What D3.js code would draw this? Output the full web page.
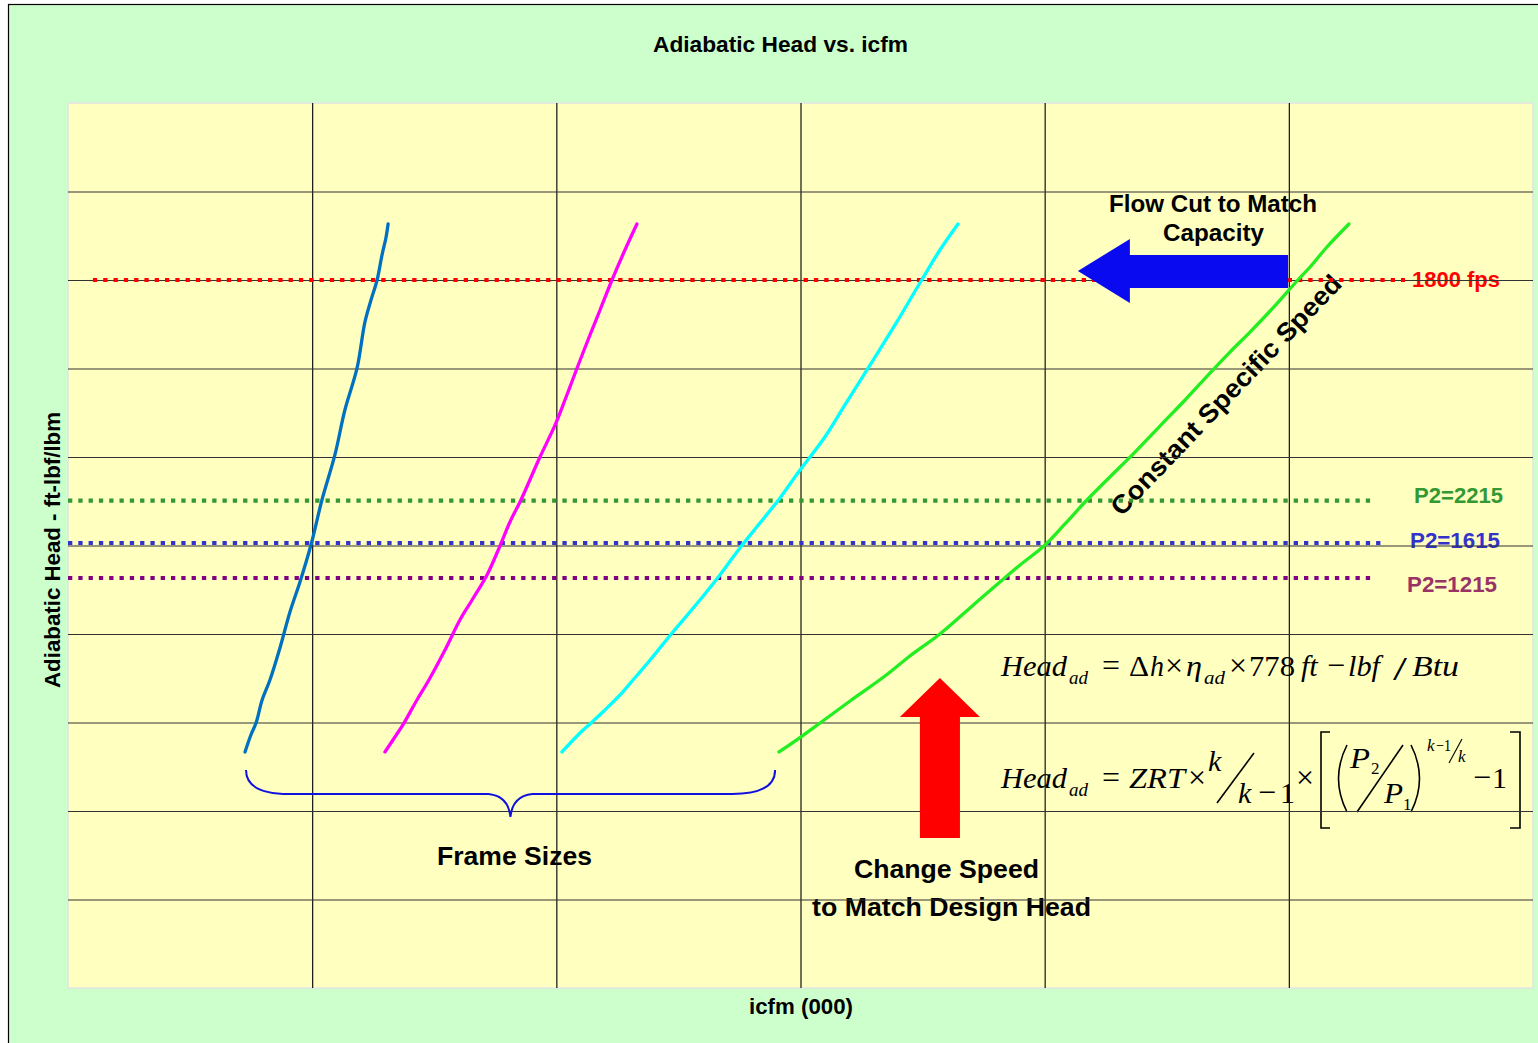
<!DOCTYPE html>
<html><head><meta charset="utf-8">
<script src="https://cdn.jsdelivr.net/npm/d3@7"></script>
<style>body{margin:0;background:#fff}svg{display:block}</style>
</head><body><svg id="c" width="1538" height="1043"></svg>
<script>
// ---------- data ----------
const xTicks = [0, 10, 20, 30, 40, 50, 60];
const yTicks = [0, 10, 20, 30, 40, 50, 60, 70, 80, 90, 100];

const frameNames = ["Frame 1", "Frame 2", "Frame 3", "Frame 4"];
const frame1X = [7.25,7.49,7.70,7.95,8.27,8.68,9.09,9.50,9.95,10.40,10.93,11.34,11.84,12.16,12.41,12.66,12.86,13.02,13.11];
const frame1Y = [26.67,28.59,29.94,32.54,34.80,38.42,42.49,45.88,50.06,55.14,60.23,65.31,70.06,75.25,77.74,80.0,82.82,84.75,86.33];
const frame2X = [12.98,13.39,13.76,14.29,14.78,15.44,16.05,16.55,17.16,17.69,18.10,18.55,19.33,19.95,20.40,20.85,21.38,21.79,22.28,22.81,23.30];
const frame2Y = [26.67,28.36,29.94,32.54,34.80,38.19,41.58,43.84,46.67,49.94,52.66,55.14,60.0,63.62,66.78,70.06,73.79,76.61,80.0,83.39,86.33];
const frame3X = [20.23,20.97,21.42,21.99,22.61,23.14,23.84,24.74,25.88,26.70,27.52,28.34,29.16,29.98,31.00,31.82,32.85,33.87,34.89,35.71,36.45];
const frame3Y = [26.67,28.81,29.94,31.41,33.11,34.80,37.06,40.11,43.84,46.67,49.72,52.54,55.37,58.53,62.26,65.88,70.40,74.92,79.66,83.39,86.33];
const frame4X = [29.12,29.73,30.80,32.03,33.46,34.48,35.71,36.94,38.17,38.99,39.97,40.83,41.73,42.67,43.70,44.72,45.75,46.77,47.59,48.41,49.35,50.37,50.87,51.56,52.46];
const frame4Y = [26.67,27.80,29.94,32.43,35.25,37.51,40.0,42.94,45.88,47.80,49.94,52.43,55.14,57.74,60.56,63.50,66.44,69.49,71.86,74.12,76.84,80.0,81.47,83.73,86.33];
const frameColors = ["#0070C0", "#FF00FF", "#00FFFF", "#22EE22"];

const refNames  = ["1800 fps", "P2=2215", "P2=1615", "P2=1215"];
const refValues = [80.0, 55.06, 50.28, 46.33];
const refStart  = [1.02, 0, 0, 0];
const refEnd    = [54.76, 53.53, 53.98, 53.57];
const refColors = ["#FF0000", "#339933", "#3333CC", "#800080"];
const refLabelColors = ["#FF0000", "#339933", "#3333CC", "#993366"];

// annotation geometry in data units
const flowArrow = [[41.36,81.02],[43.49,84.63],[43.49,82.82],[49.97,82.82],[49.97,79.10],[43.49,79.10],[43.49,77.40]];
const speedArrow = [[35.71,35.03],[37.35,30.62],[36.53,30.62],[36.53,16.95],[34.89,16.95],[34.89,30.62],[34.07,30.62]];
const braceX = [7.29, 18.12, 28.96];
const braceY = [24.63, 21.92, 19.32];

// ---------- layout ----------
const svg = d3.select("#c");
const P = {left: 68, top: 103, width: 1465, height: 885};
const x = d3.scaleLinear().domain([0, 60]).range([P.left, P.left + P.width]);
const y = d3.scaleLinear().domain([0, 100]).range([P.top + P.height, P.top]);

// chart area
svg.append("rect").attr("x", 8.5).attr("y", 4.5).attr("width", 1560).attr("height", 1080)
  .attr("fill", "#CCFFCC").attr("stroke", "#000").attr("stroke-width", 1.2);
svg.append("rect").attr("x", P.left).attr("y", P.top).attr("width", P.width).attr("height", P.height)
  .attr("fill", "#FFFFC0").attr("stroke", "#E4E4E4").attr("stroke-width", 1.5);

const SANS = "'Liberation Sans', Arial, sans-serif";
const SERIF = "'Liberation Serif', 'Times New Roman', serif";

function label(txt, px, py, size, len, opts = {}) {
  const t = svg.append("text").attr("x", px).attr("y", py).text(txt)
    .attr("font-family", SANS).attr("font-weight", "bold").attr("font-size", size)
    .attr("fill", opts.fill || "#000").attr("text-anchor", opts.anchor || "middle");
  if (len) t.attr("textLength", len).attr("lengthAdjust", "spacingAndGlyphs");
  if (opts.transform) t.attr("transform", opts.transform);
  if (opts.baseline) t.attr("dominant-baseline", opts.baseline);
  return t;
}

// titles
label("Adiabatic Head vs. icfm", 780.5, 52, 22, 255);
label("icfm (000)", 801, 1014, 22, 104);
label("Adiabatic Head - ft-lbf/lbm", 0, 0, 22, 276, {transform: "translate(60,550) rotate(-90)"});

// in-plot annotation text (beneath gridlines)
label("Flow Cut to Match", 1213, 212, 24, 208);
label("Capacity", 1213.5, 241, 24, 101);
const refLabelPos = [[1412, 287, 88], [1414, 503, 89], [1410, 548, 90], [1407, 592, 90]];
refNames.forEach((n, i) => label(n, refLabelPos[i][0], refLabelPos[i][1], 22, refLabelPos[i][2], {anchor: "start", fill: refLabelColors[i]}));
label("Constant Specific Speed", 0, 0, 26, 321, {transform: "translate(1226,395) rotate(-46.3)", baseline: "central"});
label("Frame Sizes", 514.5, 865, 26, 155);
label("Change Speed", 946.5, 878, 26, 185);
label("to Match Design Head", 951.5, 916, 26, 279);

// formulas
const f = svg.append("g").attr("fill", "#000");
function piece(txt, px, py, size, italic, len, anchor) {
  const t = f.append("text").attr("x", px).attr("y", py).text(txt)
    .attr("font-family", SERIF).attr("font-size", size)
    .attr("font-style", italic ? "italic" : "normal")
    .attr("text-anchor", anchor || "start");
  if (len) t.attr("textLength", len).attr("lengthAdjust", "spacingAndGlyphs");
}
const b1 = 676;
piece("Head", 1001, b1, 30, 1, 66); piece("ad", 1069, b1 + 8, 19, 1, 19);
piece("=", 1111, b1, 32, 0, 0, "middle"); piece("Δ", 1129, b1, 30, 0, 20); piece("h", 1150, b1, 30, 1, 14);
piece("×", 1174, b1, 32, 0, 0, "middle"); piece("η", 1186, b1, 30, 1, 16); piece("ad", 1204, b1 + 8, 19, 1, 21);
piece("×", 1238, b1, 32, 0, 0, "middle"); piece("778", 1249, b1, 30, 0, 46); piece("ft", 1301, b1, 30, 1, 0);
piece("−", 1336, b1, 32, 0, 0, "middle"); piece("lbf", 1348, b1, 30, 1, 32); piece("/", 1393, b1 + 4, 34, 0, 14);
piece("Btu", 1412, b1, 30, 1, 47);

const b2 = 788;
piece("Head", 1001, b2, 30, 1, 66); piece("ad", 1069, b2 + 8, 19, 1, 19);
piece("=", 1111, b2, 32, 0, 0, "middle"); piece("ZRT", 1129, b2, 30, 1, 56); piece("×", 1197, b2, 32, 0, 0, "middle");
piece("k", 1208, 771, 30, 1, 0); piece("k", 1238, 803, 30, 1, 0); piece("−", 1267, 803, 32, 0, 0, "middle");
piece("1", 1280, 803, 30, 0, 0);
piece("×", 1305, b2, 32, 0, 0, "middle");
piece("P", 1350, 768, 30, 1, 20); piece("2", 1371, 774, 17, 0, 0);
piece("P", 1384, 803, 30, 1, 19); piece("1", 1403, 810, 17, 0, 0);
piece("k", 1427, 751, 17, 1, 0); piece("−1", 1436, 751, 17, 0, 15); piece("k", 1458, 762, 17, 1, 0);
piece("−", 1482, b2, 32, 0, 0, "middle"); piece("1", 1492, b2, 30, 0, 0);
const fp = svg.append("g").attr("fill", "none").attr("stroke", "#000").attr("stroke-width", 1.6);
fp.append("path").attr("d", "M1217,803 L1254,753");
fp.append("path").attr("d", "M1357,812 L1403,745");
fp.append("path").attr("d", "M1449,763 L1462,739").attr("stroke-width", 1.1);
fp.append("path").attr("d", "M1330,732 H1321 V828 H1330");
fp.append("path").attr("d", "M1510,732 H1520 V828 H1510");
fp.append("path").attr("d", "M1347,745 Q1330,778.5 1347,812");
fp.append("path").attr("d", "M1411,745 Q1428,778.5 1411,812");

// gridlines
const gx = svg.append("g").attr("transform", `translate(0,${P.top + P.height})`)
  .call(d3.axisBottom(x).tickValues(xTicks.slice(1, -1)).tickSize(-P.height).tickFormat(""));
gx.select(".domain").remove();
gx.selectAll("line").attr("stroke", "#111").attr("stroke-width", 1.2);
const gy = svg.append("g").attr("transform", `translate(${P.left},0)`)
  .call(d3.axisLeft(y).tickValues(yTicks.slice(1, -1)).tickSize(-P.width).tickFormat(""));
gy.select(".domain").remove();
gy.selectAll("line").attr("stroke", "#333").attr("stroke-width", 1.2);

// reference dotted lines
refNames.forEach((n, i) => {
  svg.append("line")
    .attr("x1", x(refStart[i])).attr("x2", x(refEnd[i]))
    .attr("y1", y(refValues[i])).attr("y2", y(refValues[i]))
    .attr("stroke", refColors[i]).attr("stroke-width", 4.2).attr("stroke-dasharray", "4.3 6");
});

// frame curves
const frames = [[frame1X, frame1Y], [frame2X, frame2Y], [frame3X, frame3Y], [frame4X, frame4Y]];
const line = d3.line().x(d => x(d[0])).y(d => y(d[1])).curve(d3.curveCatmullRom.alpha(0.5));
frames.forEach(([fx, fy], i) => {
  svg.append("path").datum(fx.map((v, j) => [v, fy[j]]))
    .attr("d", line).attr("fill", "none").attr("stroke", frameColors[i])
    .attr("stroke-width", 3.3).attr("stroke-linejoin", "round").attr("stroke-linecap", "round")
    .attr("data-name", frameNames[i]);
});

// arrows
const poly = pts => "M" + pts.map(p => `${x(p[0])},${y(p[1])}`).join("L") + "Z";
svg.append("path").attr("d", poly(flowArrow)).attr("fill", "#0A0AF0");
svg.append("path").attr("d", poly(speedArrow)).attr("fill", "#FF0000");

// brace
const bx0 = x(braceX[0]), bxm = x(braceX[1]), bx1 = x(braceX[2]);
const by0 = y(braceY[0]), byh = y(braceY[1]), byt = y(braceY[2]);
svg.append("path")
  .attr("d", `M${bx0},${by0} Q${bx0},${byh} ${bx0 + 43},${byh} L${bxm - 22},${byh} Q${bxm - 2},${byh + 2} ${bxm},${byt} Q${bxm + 2},${byh + 2} ${bxm + 22},${byh} L${bx1 - 43},${byh} Q${bx1},${byh} ${bx1},${by0}`)
  .attr("fill", "none").attr("stroke", "#1010E0").attr("stroke-width", 2);
</script></body></html>
